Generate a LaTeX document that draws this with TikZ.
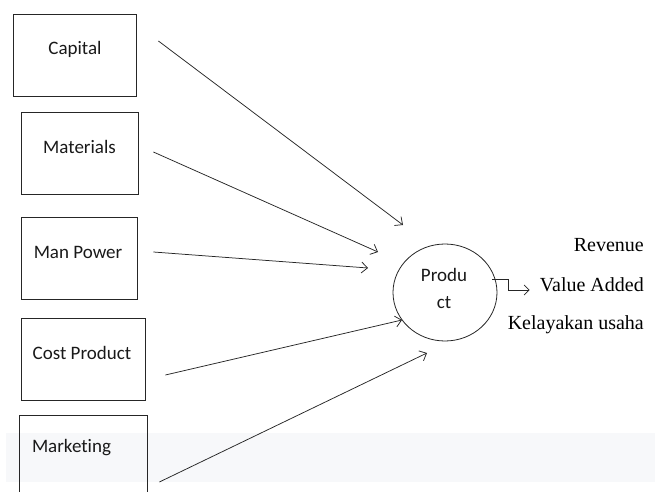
\documentclass[tikz,border=0pt]{standalone}
\usepackage{fontspec}
\setmainfont{Liberation Serif}
\newfontfamily\boxfont[Ligatures=NoCommon]{Carlito}
\usetikzlibrary{arrows.meta,shapes.geometric,calc}
\begin{document}
\begin{tikzpicture}[x=1pt,y=-1pt,
  inbox/.style={draw=black!85,line width=0.8pt,rectangle,inner sep=0pt,minimum height=82pt},
  boxtext/.style={font=\boxfont\fontsize{19}{22}\selectfont,text=black!90,inner sep=0pt},
  outtext/.style={font=\fontsize{20}{24}\selectfont,text=black,inner sep=0pt,anchor=east},
  conn/.style={draw=black!85,line width=0.75pt,-{Straight Barb[length=6pt,width=11pt,line width=0.75pt]}}]
\useasboundingbox (0,0) rectangle (662,492);
\clip (0,0) rectangle (662,492);
\fill[fill={rgb,255:red,247;green,248;blue,250}] (6,433) rectangle (655,482);
% input boxes
\node[inbox,minimum width=123pt] (cap) at (74.5,55) {};
\node[inbox,minimum width=117pt] (mat) at (79.5,153.5) {};
\node[inbox,minimum width=116pt] (man) at (79,258) {};
\node[inbox,minimum width=124pt] (cost) at (83,359) {};
\node[inbox,minimum width=128pt] (mkt) at (83,456) {};
\node[boxtext] (capt) at ($(cap.center)+(0.5,-6)$) {Capi\kern0pt tal};
\node[boxtext] (matt) at ($(mat.center)+(0,-6.5)$) {Materials};
\node[boxtext] (mant) at ($(man.center)+(-1,-6)$) {Man Power};
\node[boxtext] (costt) at ($(cost.center)+(-1,-6)$) {Cost Product};
\node[boxtext] (mktt) at ($(mkt.center)+(-11.5,-8)$) {Market\kern0pt ing};
% product
\node[ellipse,draw=black!85,line width=0.8pt,minimum width=104pt,minimum height=97pt,inner sep=0pt] (prod) at (445,292.5) {};
\node[boxtext,align=center] (prodt) at (444,288.5) {Produ\\[5pt]ct};
% outputs
\node[outtext] (rev) at (644,245) {Revenue};
\node[outtext] (va) at (644,285) {Value Added};
\node[outtext] (kel) at (644,325) {Kelayakan usaha};
% connector end points
\coordinate (c1) at ($(cap.east)+(22,-14)$);
\coordinate (c1e) at (403,225);
\coordinate (m1) at ($(mat.east)+(15,-1.5)$);
\coordinate (m1e) at (378,252);
\coordinate (p1) at ($(man.east)+(16,-6)$);
\coordinate (p1e) at (368,268);
\coordinate (k1) at ($(cost.east)+(20,16)$);
\coordinate (k1e) at (402,320);
\coordinate (r1) at ($(mkt.east)+(12,26)$);
\coordinate (r1e) at (427,353);
\draw[conn] (c1) -- (c1e);
\draw[conn] (m1) -- (m1e);
\draw[conn] (p1) -- (p1e);
\draw[conn] (k1) -- (k1e);
\draw[conn] (r1) -- (r1e);
% output connector
\coordinate (o1) at (492,279);
\coordinate (o2) at ($(va.west)+(-10,5)$);
\draw[conn,-{Straight Barb[length=5pt,width=10pt,line width=0.75pt]}] (o1) -- (508,279) |- (o2);
\end{tikzpicture}
\end{document}
